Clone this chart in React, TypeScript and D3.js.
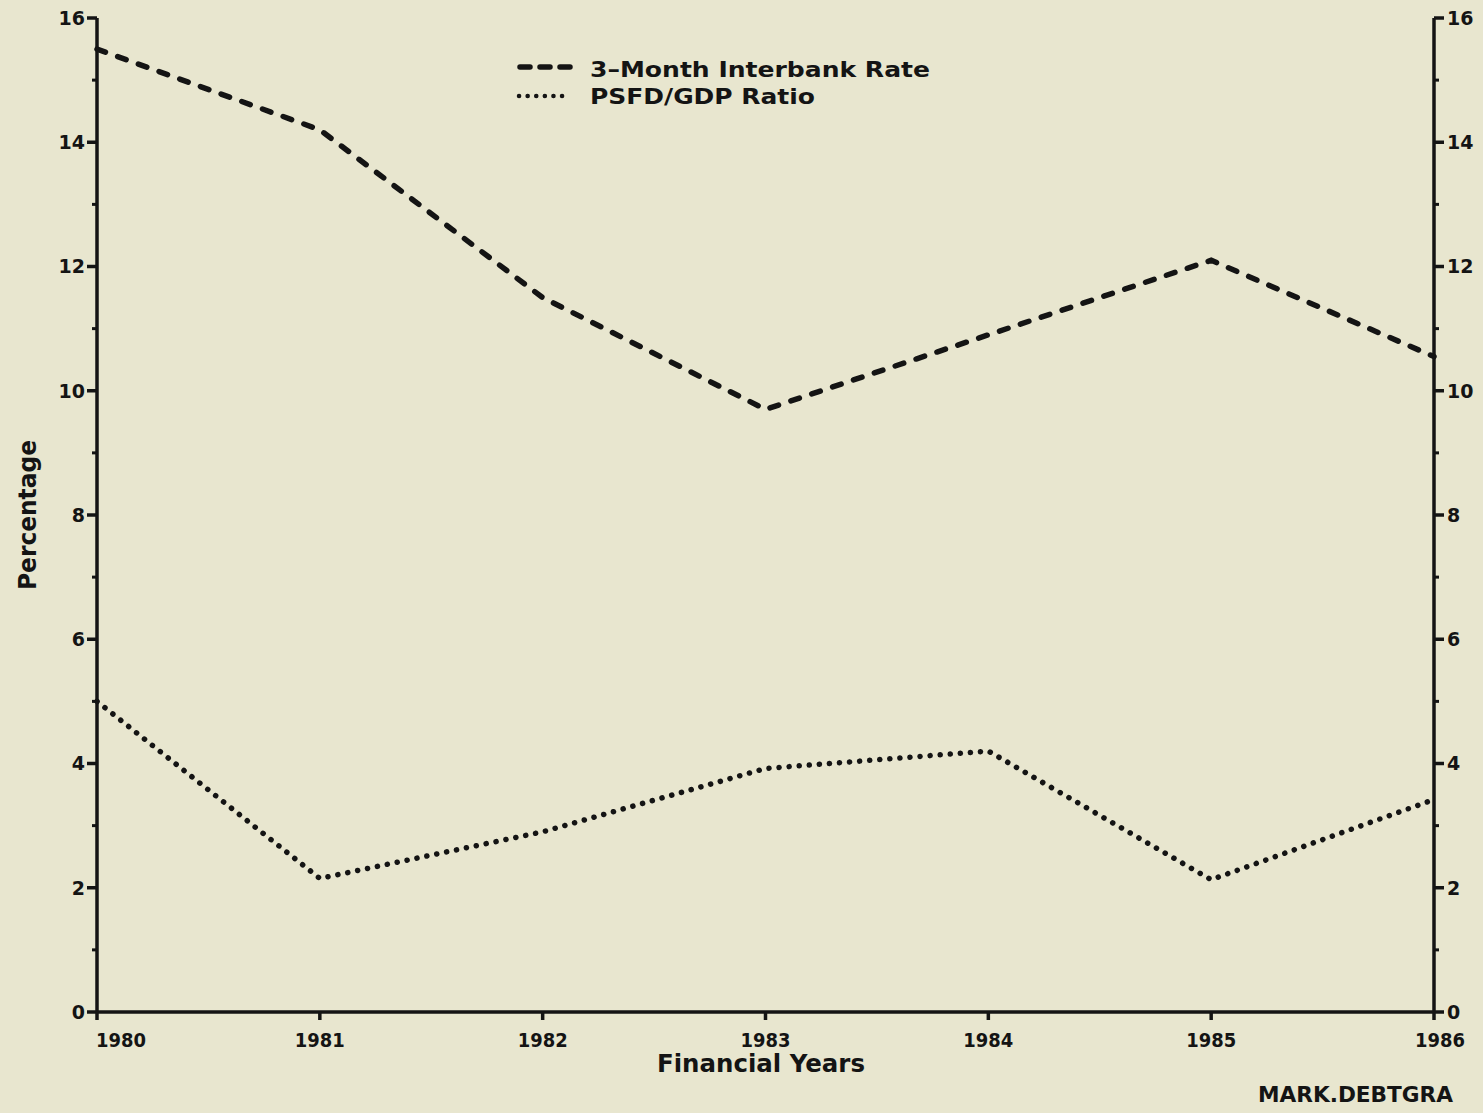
import React from "react";
import * as d3 from "d3";

const years = [1980, 1981, 1982, 1983, 1984, 1985, 1986];
const interbankRate = [15.5, 14.2, 11.5, 9.7, 10.9, 12.1, 10.55];
const psfdGdpRatio = [5.0, 2.15, 2.9, 3.92, 4.2, 2.13, 3.42];
const majorTicks = [0, 2, 4, 6, 8, 10, 12, 14, 16];
const minorTicks = [1, 3, 5, 7, 9, 11, 13, 15];
const legendLabels = ["3\u2013Month Interbank Rate", "PSFD/GDP Ratio"];

const W = 1483;
const H = 1113;
const left = 97;
const right = 1434;
const top = 18;
const bottom = 1012;
const ink = "#141414";
const font = "'DejaVu Sans', 'Liberation Sans', Arial, sans-serif";

export default function App() {
  const x = d3.scaleLinear().domain([1980, 1986]).range([left, right]);
  const y = d3.scaleLinear().domain([0, 16]).range([bottom, top]);
  const line = d3
    .line<number>()
    .x((_, i) => x(years[i]))
    .y((d) => y(d));

  const xLabelShift = (yr: number) => (yr === 1980 ? 24 : yr === 1986 ? 6 : 0);

  return (
    <svg
      width={W}
      height={H}
      style={{ position: "absolute", left: 0, top: 0, background: "#e8e6cf" }}
      fontFamily={font}
      fontWeight="bold"
    >
      <rect x={0} y={0} width={W} height={H} fill="#e8e6cf" />
      {/* axes */}
      <line x1={left} y1={top} x2={left} y2={bottom} stroke={ink} strokeWidth={3.5} />
      <line x1={right} y1={top} x2={right} y2={bottom} stroke={ink} strokeWidth={3.5} />
      <line x1={left} y1={bottom} x2={right} y2={bottom} stroke={ink} strokeWidth={3.5} />
      {majorTicks.map((t) => (
        <g key={"M" + t}>
          <line x1={left - 10} x2={left} y1={y(t)} y2={y(t)} stroke={ink} strokeWidth={3.5} />
          <line x1={right} x2={right + 10} y1={y(t)} y2={y(t)} stroke={ink} strokeWidth={3.5} />
          <text x={left - 12} y={y(t)} dy="0.36em" textAnchor="end" fontSize={19} fill={ink}>
            {t}
          </text>
          <text x={right + 13} y={y(t)} dy="0.36em" textAnchor="start" fontSize={19} fill={ink}>
            {t}
          </text>
        </g>
      ))}
      {minorTicks.map((t) => (
        <g key={"m" + t}>
          <line x1={left - 5} x2={left} y1={y(t)} y2={y(t)} stroke={ink} strokeWidth={3} />
          <line x1={right} x2={right + 5} y1={y(t)} y2={y(t)} stroke={ink} strokeWidth={3} />
        </g>
      ))}
      {years.map((yr) => (
        <g key={yr}>
          <line x1={x(yr)} x2={x(yr)} y1={bottom} y2={bottom + 8} stroke={ink} strokeWidth={3.5} />
          <text
            x={x(yr) + xLabelShift(yr)}
            y={bottom + 35}
            textAnchor="middle"
            fontSize={19}
            textLength={50}
            lengthAdjust="spacingAndGlyphs"
            fill={ink}
          >
            {yr}
          </text>
        </g>
      ))}
      {/* axis titles */}
      <text x={761} y={1072} textAnchor="middle" fontSize={25} textLength={208} lengthAdjust="spacingAndGlyphs" fill={ink}>
        Financial Years
      </text>
      <text
        transform={`translate(36,515) rotate(-90)`}
        textAnchor="middle"
        fontSize={25}
        textLength={150}
        lengthAdjust="spacingAndGlyphs"
        fill={ink}
      >
        Percentage
      </text>
      <text x={1453} y={1102} textAnchor="end" fontSize={22} textLength={195} lengthAdjust="spacingAndGlyphs" fill={ink}>
        MARK.DEBTGRA
      </text>
      {/* series */}
      <path
        d={line(interbankRate) || ""}
        fill="none"
        stroke={ink}
        strokeWidth={5.5}
        strokeDasharray="9 13"
        strokeLinecap="round"
      />
      <path
        d={line(psfdGdpRatio) || ""}
        fill="none"
        stroke={ink}
        strokeWidth={5.5}
        strokeDasharray="0.1 10"
        strokeLinecap="round"
      />
      {/* legend */}
      <line x1={520} x2={570} y1={67} y2={67} stroke={ink} strokeWidth={5.5} strokeDasharray="10 10" strokeLinecap="round" />
      <line x1={519} x2={570} y1={96} y2={96} stroke={ink} strokeWidth={4.5} strokeDasharray="0.1 8.5" strokeLinecap="round" />
      <text x={590} y={77} fontSize={22} textLength={340} lengthAdjust="spacingAndGlyphs" fill={ink}>
        {legendLabels[0]}
      </text>
      <text x={590} y={104} fontSize={22} textLength={225} lengthAdjust="spacingAndGlyphs" fill={ink}>
        {legendLabels[1]}
      </text>
    </svg>
  );
}
